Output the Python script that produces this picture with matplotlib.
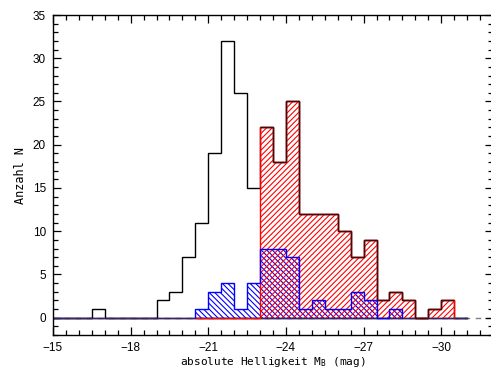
import numpy as np
import matplotlib
matplotlib.use("Agg")
import matplotlib.pyplot as plt
from matplotlib.ticker import MultipleLocator

plt.rcParams["mathtext.fontset"] = "custom"
plt.rcParams["mathtext.rm"] = "DejaVu Sans Mono"
plt.rcParams["hatch.linewidth"] = 0.8

# Bin edges in absolute magnitude (0.5 mag bins, -15 ... -31)
bin_edges = np.round(np.arange(-15.0, -31.01, -0.5), 2)

# All objects
total_counts = [0, 0, 0, 1, 0, 0, 0, 0, 2, 3, 7, 11, 19, 32, 26, 15,
                22, 18, 25, 12, 12, 12, 10, 7, 9, 2, 3, 2, 0, 1, 2, 0]
# Bright subsample (red, "/")
red_counts = [0, 0, 0, 0, 0, 0, 0, 0, 0, 0, 0, 0, 0, 0, 0, 0,
              22, 18, 25, 12, 12, 12, 10, 7, 9, 2, 3, 2, 0, 1, 2, 0]
# Second subsample (blue, "\")
blue_counts = [0, 0, 0, 0, 0, 0, 0, 0, 0, 0, 0, 1, 3, 4, 1, 4,
               8, 8, 7, 1, 2, 1, 1, 3, 2, 0, 1, 0, 0, 0, 0, 0]

x_ticks = [-15, -18, -21, -24, -27, -30]
y_ticks = [0, 5, 10, 15, 20, 25, 30, 35]

fig = plt.figure(figsize=(4.91, 3.71), dpi=100)
ax = fig.add_axes([53 / 491, 36 / 371, 440 / 491, 320 / 371])

ax.axhline(0, color="0.5", ls=(0, (4, 4)), lw=1, zorder=0.5)

edges = bin_edges
tot = np.array(total_counts, float)
red = np.array(red_counts, float)
blue = np.array(blue_counts, float)

# total histogram outline
ax.stairs(tot, edges, baseline=None, color="black", lw=1, zorder=2)
ax.plot([edges[0], edges[-1]], [0, 0], color="black", lw=1, zorder=2)
ax.plot([edges[0], edges[-1]], [0, 0], color="#3a2070", lw=1, zorder=2.1)

# blue subsample
ax.stairs(blue[11:27], edges[11:28], fill=True, facecolor="none",
          edgecolor="blue", hatch="\\" * 6, lw=0, zorder=3)
ax.stairs(blue[11:27], edges[11:28], color="blue", lw=1, zorder=3.5)

# red subsample
ax.stairs(red[16:31], edges[16:32], fill=True, facecolor="none",
          edgecolor="red", hatch="/" * 6, lw=0, zorder=3.2)
ax.stairs(red[11:31], edges[11:32], color="red", lw=1, zorder=3.3)
# dark tops over the bright part
ax.stairs(tot[16:31], edges[16:32], baseline=None, color="#2a0a0a",
          lw=1, zorder=3.4, alpha=0.85)

ax.set_xlim(-15, -32)
ax.set_ylim(-2, 35)
ax.set_xticks(x_ticks)
ax.set_xticklabels([f"\u2212{abs(t)}" for t in x_ticks])
ax.set_yticks(y_ticks)
ax.xaxis.set_minor_locator(MultipleLocator(0.5))
ax.yaxis.set_minor_locator(MultipleLocator(1))
ax.tick_params(which="both", direction="in", top=True, right=True,
               width=0.9, labelsize=8.5, pad=5)
ax.tick_params(which="major", length=6)
ax.tick_params(which="minor", length=3.5)
for lab in ax.get_xticklabels() + ax.get_yticklabels():
    lab.set_family("Liberation Sans")
for s in ax.spines.values():
    s.set_linewidth(1)

ax.set_xlabel(r"absolute Helligkeit M$_\mathrm{B}$ (mag)",
              family="DejaVu Sans Mono", fontsize=8, labelpad=1)
ax.set_ylabel("Anzahl N", family="DejaVu Sans Mono", fontsize=8.5,
              labelpad=4)

fig.savefig("out.png", dpi=100)
